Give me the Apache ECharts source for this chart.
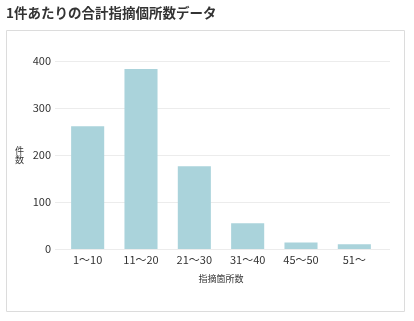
<!DOCTYPE html>
<html><head><meta charset="utf-8">
<script src="https://cdn.jsdelivr.net/npm/echarts@6/dist/echarts.min.js"></script>
<style>html,body{margin:0;padding:0;background:#fff}#c{width:414px;height:321px}</style>
</head><body><div id="c"></div>
<script>
const categories = ['1〜10', '11〜20', '21〜30', '31〜40', '45〜50', '51〜'];
const counts = [261, 383, 176, 55, 14, 10];
const yTicks = [0, 100, 200, 300, 400];

const font = "'Noto Sans CJK JP', 'Noto Sans', sans-serif";
const chart = echarts.init(document.getElementById('c'), null, {renderer: 'canvas'});
chart.setOption({
  animation: false,
  textStyle: {fontFamily: font},
  title: {text: '1件あたりの合計指摘個所数データ', left: 6, top: 6, padding: 0,
    textStyle: {fontSize: 13.5, fontWeight: 'bold', color: '#333', fontFamily: font}},
  graphic: [
    {type: 'rect', shape: {x: 6.5, y: 30.5, width: 398, height: 281},
     style: {fill: 'none', stroke: '#dcdcdc', lineWidth: 1}, z: -10},
    {type: 'text', left: 15, top: 146,
     style: {text: '件\n数', fontSize: 9, lineHeight: 9, fill: '#333', fontFamily: font}}
  ],
  grid: [
    {left: 61, right: 33, top: 61, bottom: 72},
    {left: 55, right: 24, top: 61, bottom: 72}
  ],
  xAxis: [
    {type: 'category', gridIndex: 0, data: categories,
     axisLine: {show: false}, axisTick: {show: false},
     axisLabel: {fontSize: 11, color: '#333', margin: 5},
     name: '指摘箇所数', nameLocation: 'middle', nameGap: 25,
     nameTextStyle: {fontSize: 9, color: '#333'}},
    {type: 'category', gridIndex: 1, data: categories, show: false}
  ],
  yAxis: [
    {type: 'value', gridIndex: 0, min: 0, max: 400, interval: 100, show: false},
    {type: 'value', gridIndex: 1, min: 0, max: 400, interval: 100,
     axisLine: {show: false}, axisTick: {show: false},
     axisLabel: {fontSize: 11, color: '#333', margin: 4,
       formatter: v => yTicks.includes(v) ? String(v) : ''},
     splitLine: {lineStyle: {color: '#ececec', width: 1}}}
  ],
  series: [{
    type: 'bar', xAxisIndex: 0, yAxisIndex: 0, data: counts,
    barWidth: '62%', itemStyle: {color: '#aad3db'}
  }]
});
</script></body></html>
